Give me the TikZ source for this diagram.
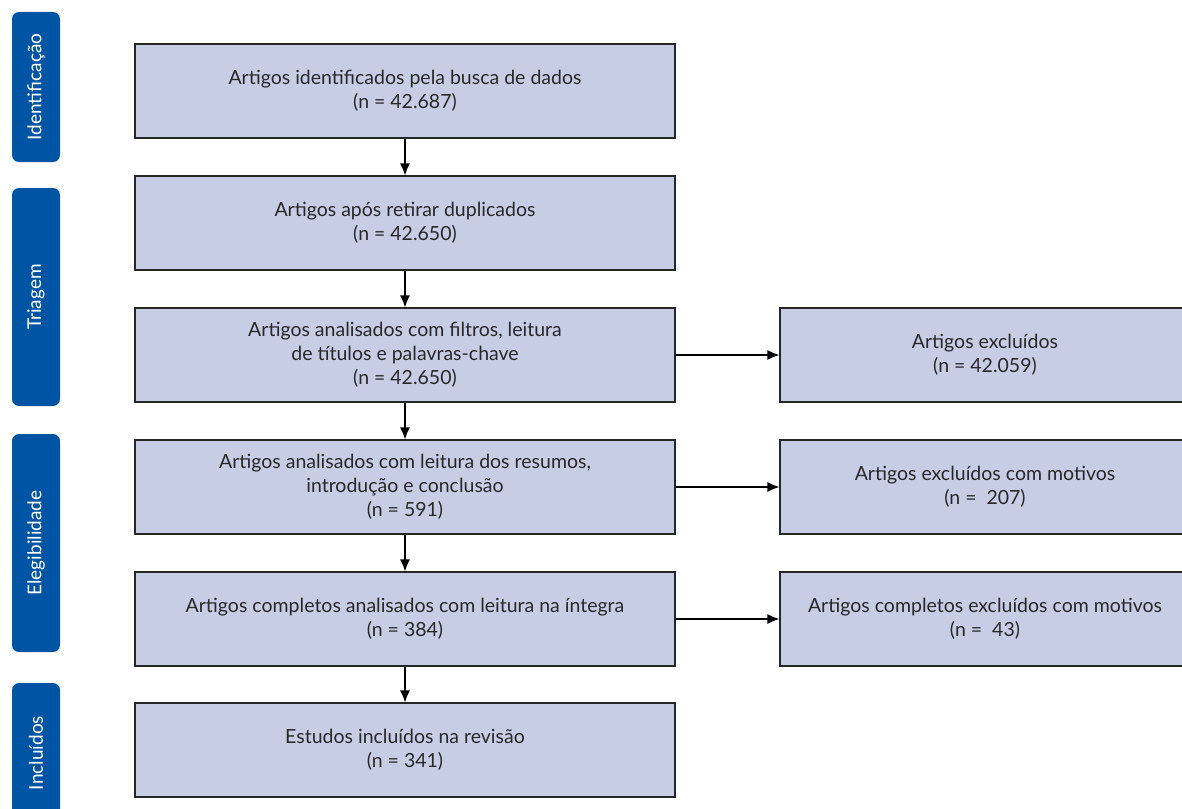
\documentclass[tikz,border=0pt]{standalone}
\usepackage{fontspec}
\setmainfont{Lato}
\usetikzlibrary{arrows.meta}
\definecolor{boxfill}{RGB}{200,205,230}
\definecolor{tabblue}{RGB}{0,84,164}
\definecolor{txt}{RGB}{40,40,40}
\begin{document}
\begin{tikzpicture}[x=1pt,y=-1pt,
  stepbox/.style={draw=black!85,line width=1.2pt,fill=boxfill,minimum width=540pt,minimum height=94pt,align=center,font=\fontsize{19.5}{24}\selectfont,text=txt,inner sep=0pt},
  sidebox/.style={stepbox,minimum width=410pt},
  tab/.style={fill=tabblue,rounded corners=7pt,minimum width=48pt,inner sep=0pt,text=white,font=\fontsize{19}{20}\selectfont,rotate=90,anchor=center},
  arr/.style={-{Latex[length=12pt,width=10pt]},line width=1.2pt,black}]
\useasboundingbox (0,0) rectangle (1182,808);
\begin{scope}
\clip (0,0) rectangle (1182,808);
% tabs
\node[tab,minimum width=150pt,minimum height=48pt] (t1) at (36,87) {Identificação};
\node[tab,minimum width=218pt,minimum height=48pt] (t2) at (36,297) {Triagem};
\node[tab,minimum width=218pt,minimum height=48pt] (t3) at (36,543) {Elegibilidade};
\node[tab,minimum width=140pt,minimum height=48pt] (t4) at (36,753) {Incluídos};
% main column
\node[stepbox] (b1) at (405,91) {Artigos identificados pela busca de dados\\(n = 42.687)};
\node[stepbox] (b2) at (405,223) {Artigos após retirar duplicados\\(n = 42.650)};
\node[stepbox] (b3) at (405,355) {Artigos analisados com filtros, leitura\\de títulos e palavras-chave\\(n = 42.650)};
\node[stepbox] (b4) at (405,487) {Artigos analisados com leitura dos resumos,\\introdução e conclusão\\(n = 591)};
\node[stepbox] (b5) at (405,619) {Artigos completos analisados com leitura na íntegra\\(n = 384)};
\node[stepbox] (b6) at (405,750) {Estudos incluídos na revisão\\(n = 341)};
% side column
\node[sidebox] (s3) at (985,355) {Artigos excluídos\\(n = 42.059)};
\node[sidebox] (s4) at (985,487) {Artigos excluídos com motivos\\(n =~~207)};
\node[sidebox] (s5) at (985,619) {Artigos completos excluídos com motivos\\(n =~~43)};
\end{scope}
\draw[arr] (b1) -- (b2);
\draw[arr] (b2) -- (b3);
\draw[arr] (b3) -- (b4);
\draw[arr] (b4) -- (b5);
\draw[arr] (b5) -- (b6);
\draw[arr] (b3) -- (s3);
\draw[arr] (b4) -- (s4);
\draw[arr] (b5) -- (s5);
\end{tikzpicture}
\end{document}
